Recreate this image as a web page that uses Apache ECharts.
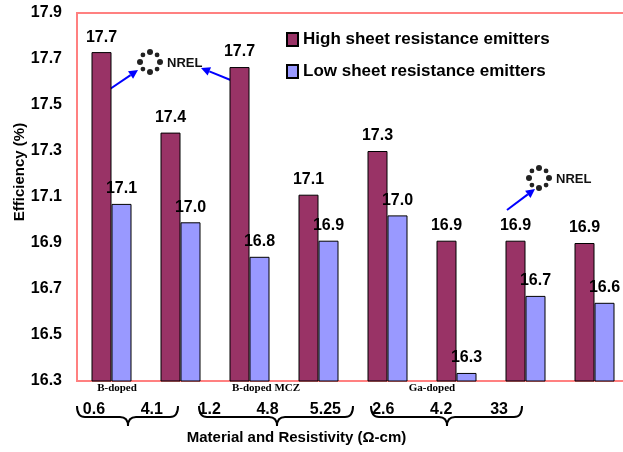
<!DOCTYPE html>
<html>
<head>
<meta charset="utf-8">
<script src="https://cdn.jsdelivr.net/npm/echarts@6/dist/echarts.min.js"></script>
<style>
    html, body { margin: 0; padding: 0; background: #fff; }
    #chart { width: 623px; height: 452px; }
</style>
</head>
<body>
<div id="chart"></div>
<script>
// categories (resistivity, ohm-cm) and grouping
var resistivity = ['0.6', '4.1', '1.2', '4.8', '5.25', '2.6', '4.2', '33'];
var materials = ['B-doped', 'B-doped MCZ', 'Ga-doped'];

// efficiency (%)
var highSheet = [17.73, 17.38, 17.665, 17.11, 17.30, 16.91, 16.91, 16.90];
var lowSheet = [17.07, 16.99, 16.84, 16.91, 17.02, 16.335, 16.67, 16.64];

var seriesNames = ['High sheet resistance emitters', 'Low sheet resistance emitters'];

var FONT = '"Liberation Sans", Arial, sans-serif';

function arrow(x1, y1, x2, y2) {
    var ang = Math.atan2(y2 - y1, x2 - x1);
    var len = 9, w = 4.5;
    var bx = x2 - len * Math.cos(ang), by = y2 - len * Math.sin(ang);
    var px = -Math.sin(ang) * w, py = Math.cos(ang) * w;
    return {
        type: 'group',
        children: [
            { type: 'line', shape: { x1: x1, y1: y1, x2: bx, y2: by }, style: { stroke: '#0000ff', lineWidth: 2 } },
            { type: 'polygon', shape: { points: [[x2, y2], [bx + px, by + py], [bx - px, by - py]] }, style: { fill: '#0000ff' } }
        ]
    };
}

function logo(cx, cy) {
    var kids = [];
    for (var i = 0; i < 8; i++) {
        var a = i * Math.PI / 4;
        kids.push({
            type: 'circle',
            shape: { cx: cx + 10 * Math.cos(a), cy: cy + 10 * Math.sin(a), r: i % 2 ? 2.4 : 3 },
            style: { fill: '#222' }
        });
    }
    kids.push({
        type: 'text', x: cx + 17, y: cy + 1,
        style: { text: 'NREL', fill: '#111', font: 'bold 13px ' + FONT, verticalAlign: 'middle' }
    });
    return { type: 'group', children: kids };
}

// curly brace under a group of categories, tip pointing down
function brace(x0, x1, tip) {
    var y0 = 406, y1 = 417, y2 = 426, r = 8;
    var st = { stroke: '#000', lineWidth: 2, fill: null };
    function q(ax, ay, cx, cy, bx, by) {
        return { type: 'bezierCurve', shape: { x1: ax, y1: ay, cpx1: cx, cpy1: cy, x2: bx, y2: by }, style: st };
    }
    return {
        type: 'group',
        children: [
            q(x0, y0, x0, y1, x0 + r, y1),
            { type: 'line', shape: { x1: x0 + r, y1: y1, x2: tip - r, y2: y1 }, style: st },
            q(tip - r, y1, tip, y1, tip, y2),
            q(tip, y2, tip, y1, tip + r, y1),
            { type: 'line', shape: { x1: tip + r, y1: y1, x2: x1 - r, y2: y1 }, style: st },
            q(x1 - r, y1, x1, y1, x1, y0)
        ]
    };
}

var groupPos = [117, 266, 432];
var graphics = [];
for (var g = 0; g < materials.length; g++) {
    graphics.push({
        type: 'text', x: groupPos[g], y: 388,
        style: {
            text: materials[g], fill: '#000', align: 'center', verticalAlign: 'middle',
            font: 'bold 11px "Liberation Serif", "Times New Roman", serif'
        }
    });
}
graphics.push(brace(77, 178, 128));
graphics.push(brace(199, 353, 277));
graphics.push(brace(371, 522, 447));
graphics.push(logo(150, 62));
graphics.push(logo(539, 178));
graphics.push(arrow(110, 89, 138, 70));
graphics.push(arrow(233, 81, 201, 68));
graphics.push(arrow(507, 210, 535, 189));

var chart = echarts.init(document.getElementById('chart'));

var labelOpt = {
    show: true,
    position: 'top',
    distance: 7,
    color: '#000',
    fontWeight: 'bold',
    fontSize: 16,
    fontFamily: FONT,
    formatter: function (p) { return p.value.toFixed(1); }
};

var option = {
    backgroundColor: '#fff',
    animation: false,
    legend: {
        orient: 'vertical',
        left: 281,
        top: 26,
        itemWidth: 11,
        itemHeight: 13,
        itemGap: 15,
        icon: 'rect',
        textStyle: { fontSize: 17, fontWeight: 'bold', color: '#000', fontFamily: FONT },
        data: seriesNames
    },
    grid: [
        { left: 77, top: 13, width: 552, height: 368, show: true, borderColor: '#ff8080', borderWidth: 2, outerBoundsMode: 'none' },
        { left: 65, top: 13, width: 463, height: 368, outerBoundsMode: 'none' }
    ],
    xAxis: [
        {
            type: 'category', gridIndex: 0, data: resistivity,
            axisLine: { show: false }, axisTick: { show: false }, axisLabel: { show: false }
        },
        {
            type: 'category', gridIndex: 1, data: resistivity,
            axisLine: { show: false }, axisTick: { show: false },
            axisLabel: { margin: 21, fontSize: 16, fontWeight: 'bold', color: '#000', fontFamily: FONT },
            name: 'Material and Resistivity (\u03a9-cm)',
            nameLocation: 'middle',
            nameGap: 49,
            nameMoveOverlap: false,
            nameTextStyle: { fontSize: 15, fontWeight: 'bold', color: '#000', fontFamily: FONT }
        }
    ],
    yAxis: [
        {
            type: 'value', gridIndex: 0, min: 16.3, max: 17.9, interval: 0.2,
            axisLine: { show: false }, axisTick: { show: false }, splitLine: { show: false },
            axisLabel: {
                margin: 15, fontSize: 16, fontWeight: 'bold', color: '#000', fontFamily: FONT,
                formatter: function (v) { return v.toFixed(1); }
            },
            name: 'Efficiency (%)',
            nameLocation: 'middle',
            nameGap: 50,
            nameMoveOverlap: false,
            nameTextStyle: { fontSize: 15, fontWeight: 'bold', color: '#000', fontFamily: FONT, padding: [0, 0, 0, 50] }
        },
        { type: 'value', gridIndex: 1, show: false }
    ],
    series: [
        {
            name: seriesNames[0], type: 'bar', xAxisIndex: 0, yAxisIndex: 0,
            data: highSheet, barWidth: 20, barGap: '0%',
            itemStyle: { color: '#993366', borderColor: '#000', borderWidth: 1 },
            label: labelOpt
        },
        {
            name: seriesNames[1], type: 'bar', xAxisIndex: 0, yAxisIndex: 0,
            data: lowSheet, barWidth: 20, barGap: '0%',
            itemStyle: { color: '#9999ff', borderColor: '#000', borderWidth: 1 },
            label: labelOpt
        }
    ],
    graphic: graphics
};

chart.setOption(option);
</script>
</body>
</html>
